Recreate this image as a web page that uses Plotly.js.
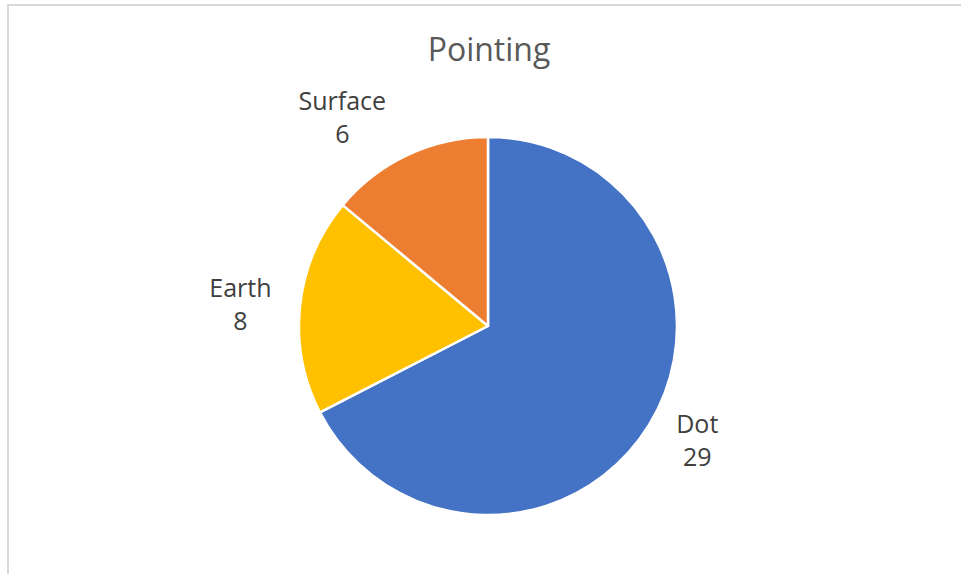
<!DOCTYPE html>
<html>
<head>
<meta charset="utf-8">
<script src="https://cdn.plot.ly/plotly-3.0.1.min.js"></script>
<style>
html,body{margin:0;padding:0;background:#fff;}
#frame{position:absolute;left:7px;top:4px;width:960px;height:580px;border-left:2px solid #d9d9d9;border-top:2px solid #d9d9d9;}
#chart{position:absolute;left:0;top:0;width:961px;height:574px;}
</style>
</head>
<body>
<div id="frame"></div>
<div id="chart"></div>
<script>
const labels = ["Dot", "Earth", "Surface"];
const values = [29, 8, 6];
const colors = ["#4472C4", "#FFC000", "#ED7D31"];

const W = 961, H = 574;
const cx = 488, cy = 326, r = 189, rLabel = 201;
const FONT = "'Open Sans', 'Noto Sans', sans-serif";

function dom(rad) {
  return {x: [(cx - rad) / W, (cx + rad) / W], y: [(H - cy - rad) / H, (H - cy + rad) / H]};
}

Plotly.newPlot("chart", [{
  // invisible twin pie, slightly larger, that only carries the outside labels
  type: "pie",
  labels: labels,
  values: values,
  sort: false,
  direction: "clockwise",
  rotation: 0,
  marker: {colors: ["rgba(0,0,0,0)", "rgba(0,0,0,0)", "rgba(0,0,0,0)"], line: {width: 0}},
  texttemplate: "%{label}<br>%{value}",
  textposition: "outside",
  automargin: false,
  outsidetextfont: {family: FONT, size: 25, color: "#404040"},
  hoverinfo: "none",
  domain: dom(rLabel)
}, {
  type: "pie",
  labels: labels,
  values: values,
  sort: false,
  direction: "clockwise",
  rotation: 0,
  marker: {colors: colors, line: {color: "#ffffff", width: 2.5}},
  textinfo: "none",
  hoverinfo: "none",
  domain: dom(r)
}], {
  width: W, height: H,
  margin: {l: 0, r: 0, t: 0, b: 0},
  paper_bgcolor: "rgba(0,0,0,0)",
  showlegend: false,
  title: {text: "Pointing", x: 489 / W, xanchor: "center", y: 1 - 50 / H, yanchor: "middle",
          font: {family: FONT, size: 32, color: "#595959"}}
}, {displayModeBar: false, staticPlot: true});
</script>
</body>
</html>
